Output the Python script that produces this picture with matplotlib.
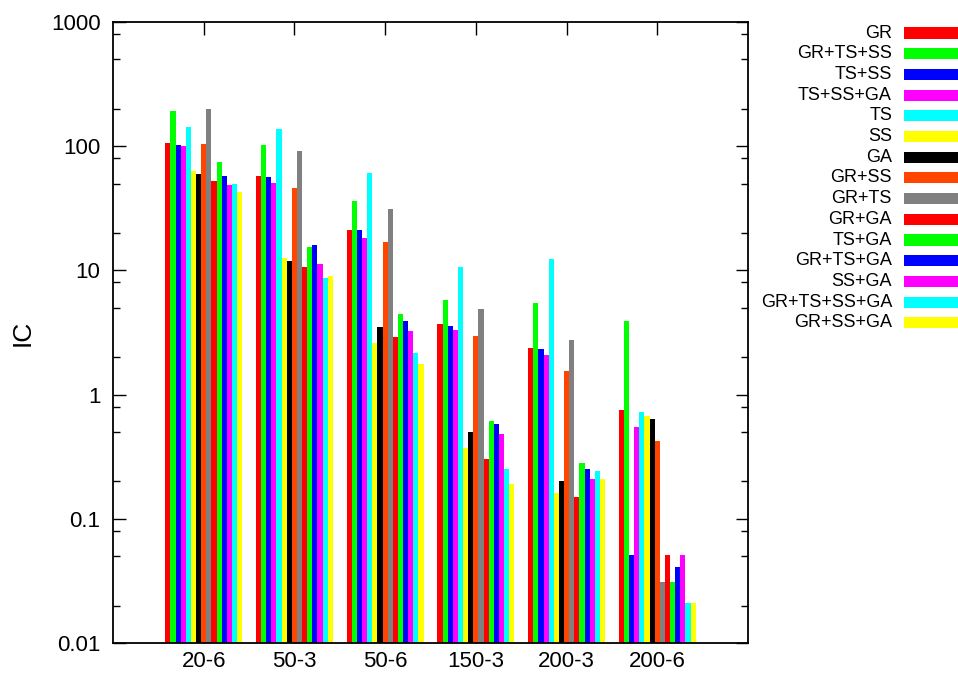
import matplotlib
matplotlib.use("Agg")
import matplotlib.pyplot as plt
from matplotlib.patches import Rectangle
from matplotlib.ticker import LogLocator, NullFormatter
import numpy as np

plt.rcParams["font.family"] = ["Liberation Sans", "DejaVu Sans"]

groups = ["20-6", "50-3", "50-6", "150-3", "200-3", "200-6"]

methods = ["GR", "GR+TS+SS", "TS+SS", "TS+SS+GA", "TS", "SS", "GA", "GR+SS",
           "GR+TS", "GR+GA", "TS+GA", "GR+TS+GA", "SS+GA", "GR+TS+SS+GA", "GR+SS+GA"]

colors = ["#ff0000", "#00ff00", "#0000ff", "#ff00ff", "#00ffff", "#ffff00", "#000000",
          "#ff4500", "#808080", "#ff0000", "#00ff00", "#0000ff", "#ff00ff", "#00ffff", "#ffff00"]

# IC per method, one value per group (same order as groups)
ic_gr = [107, 57.5, 21.1, 3.70, 2.37, 0.75]
ic_gr_ts_ss = [192, 102, 36.2, 5.8, 5.5, 3.9]
ic_ts_ss = [102, 56.5, 21.1, 3.57, 2.33, 0.05]
ic_ts_ss_ga = [100, 50.5, 18.2, 3.31, 2.08, 0.55]
ic_ts = [143, 137, 60.8, 10.6, 12.4, 0.72]
ic_ss = [63, 12.6, 2.6, 0.37, 0.16, 0.67]
ic_ga = [60, 11.9, 3.5, 0.50, 0.20, 0.635]
ic_gr_ss = [104, 46, 16.9, 2.96, 1.55, 0.42]
ic_gr_ts = [199, 91.5, 31.2, 4.9, 2.75, 0.03]
ic_gr_ga = [52.5, 10.6, 2.9, 0.30, 0.15, 0.05]
ic_ts_ga = [74.6, 15.4, 4.45, 0.61, 0.28, 0.03]
ic_gr_ts_ga = [57.5, 16.0, 3.9, 0.58, 0.25, 0.04]
ic_ss_ga = [48.7, 11.3, 3.25, 0.48, 0.21, 0.05]
ic_gr_ts_ss_ga = [49.6, 8.7, 2.16, 0.25, 0.24, 0.02]
ic_gr_ss_ga = [42.8, 9.0, 1.76, 0.19, 0.21, 0.02]

series = [ic_gr, ic_gr_ts_ss, ic_ts_ss, ic_ts_ss_ga, ic_ts, ic_ss, ic_ga, ic_gr_ss,
          ic_gr_ts, ic_gr_ga, ic_ts_ga, ic_gr_ts_ga, ic_ss_ga, ic_gr_ts_ss_ga, ic_gr_ss_ga]

W, H = 958, 673
fig = plt.figure(figsize=(W / 100, H / 100), dpi=100)
ax = fig.add_axes([113 / W, 30 / H, 635 / W, 621 / H])

x = np.arange(1, len(groups) + 1)
bw = 0.0565
n = len(series)
for i, (vals, c) in enumerate(zip(series, colors)):
    ax.bar(x + (i - (n - 1) / 2) * bw, vals, width=bw, color=c, linewidth=0,
           bottom=0.001)

ax.set_yscale("log")
ax.set_ylim(0.01, 1000)
ax.set_xlim(0, 7)
ax.set_xticks(x)
ax.set_xticklabels(groups)
ax.yaxis.set_minor_locator(LogLocator(base=10, subs=[2, 5, 8], numticks=20))
ax.yaxis.set_minor_formatter(NullFormatter())
ax.set_yticks([0.01, 0.1, 1, 10, 100, 1000])
ax.set_yticklabels(["0.01", "0.1", "1", "10", "100", "1000"])
# axis ticks sit behind the bars
ax.set_axisbelow(True)

ax.tick_params(axis="both", which="both", direction="in", top=True, right=True,
               labelsize=16, width=1.0)
ax.tick_params(axis="both", which="major", length=9)
ax.tick_params(axis="y", which="minor", length=5)
ax.tick_params(axis="y", pad=9)
ax.tick_params(axis="x", pad=6)
for s in ax.spines.values():
    s.set_linewidth(1.3)

ax.set_ylabel("IC", fontsize=19, labelpad=12)

# key in the right margin: right-aligned labels with a colour swatch
for i, (name, c) in enumerate(zip(methods, colors)):
    yc = 33 + i * 20.7
    fig.text(892 / W, 1 - yc / H, name, ha="right", va="center", fontsize=13)
    fig.add_artist(Rectangle((904 / W, 1 - (yc + 5.5) / H), 54 / W, 11 / H,
                             transform=fig.transFigure, color=c, linewidth=0))

fig.savefig("out.png", dpi=100)
